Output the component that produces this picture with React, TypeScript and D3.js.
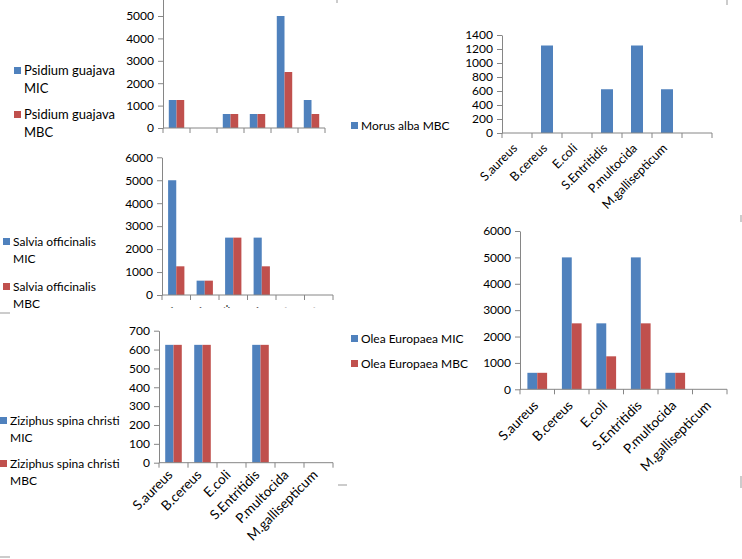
import { useEffect, useRef } from 'react';
import * as d3 from 'd3';

const categories = ['S.aureus', 'B.cereus', 'E.coli', 'S.Entritidis', 'P.multocida', 'M.gallisepticum'];
const morusCategories = [...categories, ''];

const psidiumMIC = [1250, 0, 625, 625, 5000, 1250];
const psidiumMBC = [1250, 0, 625, 625, 2500, 625];
const morusMBC = [0, 1250, 0, 625, 1250, 625, 0];
const salviaMIC = [5000, 625, 2500, 2500, 0, 0];
const salviaMBC = [1250, 625, 2500, 1250, 0, 0];
const oleaMIC = [625, 5000, 2500, 5000, 625, 0];
const oleaMBC = [625, 2500, 1250, 2500, 625, 0];
const ziziphusMIC = [625, 625, 0, 625, 0, 0];
const ziziphusMBC = [625, 625, 0, 625, 0, 0];

const BLUE = '#4F81BD';
const RED = '#C0504D';
const AXIS = '#868686';
const FONT = 'Lato, "Open Sans", sans-serif';

interface Panel {
    cats: string[];
    series: { values: number[]; color: string }[];
    max: number;
    labelMax: number;
    step: number;
    left: number;
    right: number;
    base: number;
    top: number;
    clip: [number, number, number, number];
    labelSize: number;
    labelOffset: [number, number];
    legendSize: number;
    legend: { x: number; y: number; color: string; lines: string[] }[];
}

const panels: Panel[] = [
    {
        cats: categories,
        series: [{ values: psidiumMIC, color: BLUE }, { values: psidiumMBC, color: RED }],
        max: 6000, labelMax: 5000, step: 1000, left: 163, right: 325, base: 128, top: -6.4,
        clip: [0, 0, 345, 135], labelSize: 13, labelOffset: [1, 15], legendSize: 13,
        legend: [
            { x: 14, y: 67, color: BLUE, lines: ['Psidium guajava', 'MIC'] },
            { x: 14, y: 111, color: RED, lines: ['Psidium guajava', 'MBC'] },
        ],
    },
    {
        cats: morusCategories,
        series: [{ values: morusMBC, color: BLUE }],
        max: 1400, labelMax: 1400, step: 200, left: 502, right: 712, base: 133, top: 35,
        clip: [345, 0, 397, 218], labelSize: 12.5, labelOffset: [1, 16], legendSize: 12,
        legend: [{ x: 351, y: 122, color: BLUE, lines: ['Morus alba MBC'] }],
    },
    {
        cats: categories,
        series: [{ values: salviaMIC, color: BLUE }, { values: salviaMBC, color: RED }],
        max: 6000, labelMax: 6000, step: 1000, left: 162, right: 333, base: 295, top: 157.3,
        clip: [0, 140, 345, 168], labelSize: 13, labelOffset: [1, 16], legendSize: 12,
        legend: [
            { x: 3, y: 238, color: BLUE, lines: ['Salvia officinalis', 'MIC'] },
            { x: 3, y: 283, color: RED, lines: ['Salvia officinalis', 'MBC'] },
        ],
    },
    {
        cats: categories,
        series: [{ values: oleaMIC, color: BLUE }, { values: oleaMBC, color: RED }],
        max: 6000, labelMax: 6000, step: 1000, left: 520, right: 727, base: 389.3, top: 231,
        clip: [345, 218, 397, 300], labelSize: 13.5, labelOffset: [2, 17], legendSize: 12,
        legend: [
            { x: 351, y: 335, color: BLUE, lines: ['Olea Europaea MIC'] },
            { x: 351, y: 360, color: RED, lines: ['Olea Europaea MBC'] },
        ],
    },
    {
        cats: categories,
        series: [{ values: ziziphusMIC, color: BLUE }, { values: ziziphusMBC, color: RED }],
        max: 700, labelMax: 700, step: 100, left: 159, right: 333, base: 462.7, top: 330.7,
        clip: [0, 314, 345, 245], labelSize: 13.5, labelOffset: [0, 13], legendSize: 12,
        legend: [
            { x: 0, y: 417, color: BLUE, lines: ['Ziziphus spina christi', 'MIC'] },
            { x: 0, y: 460, color: RED, lines: ['Ziziphus spina christi', 'MBC'] },
        ],
    },
];

const App: React.FC = () => {
    const svgRef = useRef<SVGSVGElement>(null);

    useEffect(() => {
        if (!svgRef.current) return;
        const svg = d3.select(svgRef.current);
        svg.selectAll('*').remove();

        panels.forEach((p, pi) => {
            const clipId = `clip-${pi}`;
            svg.append('clipPath').attr('id', clipId)
                .append('rect')
                .attr('x', p.clip[0]).attr('y', p.clip[1])
                .attr('width', p.clip[2]).attr('height', p.clip[3]);

            const g = svg.append('g').attr('clip-path', `url(#${clipId})`)
                .style('font-family', FONT).style('font-size', '12px');

            const x = d3.scaleBand().domain(p.cats.map((_, i) => String(i))).range([p.left, p.right]);
            const inner = d3.scaleBand()
                .domain(p.series.map((_, i) => String(i)))
                .range([0, x.bandwidth()])
                .paddingInner(0)
                .paddingOuter(0.75);
            const y = d3.scaleLinear().domain([0, p.max]).range([p.base, p.top]);

            // bars
            p.series.forEach((s, si) => {
                g.selectAll(`.bar-${si}`)
                    .data(s.values)
                    .join('rect')
                    .attr('class', `bar-${si}`)
                    .attr('x', (_, i) => x(String(i))! + inner(String(si))!)
                    .attr('y', d => y(d))
                    .attr('width', inner.bandwidth())
                    .attr('height', d => p.base - y(d))
                    .attr('fill', s.color);
            });

            // y axis
            const ya = g.append('g')
                .attr('transform', `translate(${p.left},0)`)
                .call(d3.axisLeft(y)
                    .tickValues(d3.range(0, p.labelMax + p.step / 2, p.step))
                    .tickSize(5).tickSizeOuter(0).tickPadding(4)
                    .tickFormat(d3.format('d')));
            ya.select('.domain').attr('stroke', AXIS);
            ya.selectAll('.tick line').attr('stroke', AXIS);
            ya.selectAll('.tick text').attr('fill', '#000').style('font-family', FONT).style('font-size', '12px');

            // x axis
            g.append('line')
                .attr('x1', p.left).attr('x2', p.right)
                .attr('y1', p.base).attr('y2', p.base)
                .attr('stroke', AXIS);
            g.selectAll('.xtick')
                .data(d3.range(p.cats.length + 1))
                .join('line')
                .attr('class', 'xtick')
                .attr('x1', i => p.left + i * x.step())
                .attr('x2', i => p.left + i * x.step())
                .attr('y1', p.base).attr('y2', p.base + 5)
                .attr('stroke', AXIS);

            g.selectAll('.xlabel')
                .data(p.cats)
                .join('text')
                .attr('class', 'xlabel')
                .attr('transform', (_, i) =>
                    `translate(${x(String(i))! + x.bandwidth() / 2 + p.labelOffset[0]},${p.base + p.labelOffset[1]}) rotate(-45)`)
                .attr('text-anchor', 'end')
                .style('font-size', `${p.labelSize}px`)
                .text(d => d);

            // legend
            const lg = svg.append('g').style('font-family', FONT).style('font-size', `${p.legendSize}px`);
            p.legend.forEach(item => {
                lg.append('rect')
                    .attr('x', item.x).attr('y', item.y)
                    .attr('width', 7).attr('height', 7)
                    .attr('fill', item.color);
                item.lines.forEach((line, li) => {
                    lg.append('text')
                        .attr('x', item.x + 10)
                        .attr('y', item.y + 8 + li * (p.legendSize + 5))
                        .text(line);
                });
            });
        });

        // leftover frame fragments
        const frags: [number, number, number, number][] = [
            [337, 0, 337, 3], [727, 0, 727, 5], [741, 215, 741, 222], [741, 476, 741, 488],
            [0, 313, 10, 313], [338, 485, 347, 485], [0, 557, 10, 557],
        ];
        svg.selectAll('.frag')
            .data(frags)
            .join('line')
            .attr('class', 'frag')
            .attr('x1', d => d[0]).attr('y1', d => d[1])
            .attr('x2', d => d[2]).attr('y2', d => d[3])
            .attr('stroke', '#999');
    }, []);

    return (
        <svg ref={svgRef} width={742} height={559}
            style={{ position: 'absolute', left: 0, top: 0, background: '#fff' }} />
    );
};

export default App;
